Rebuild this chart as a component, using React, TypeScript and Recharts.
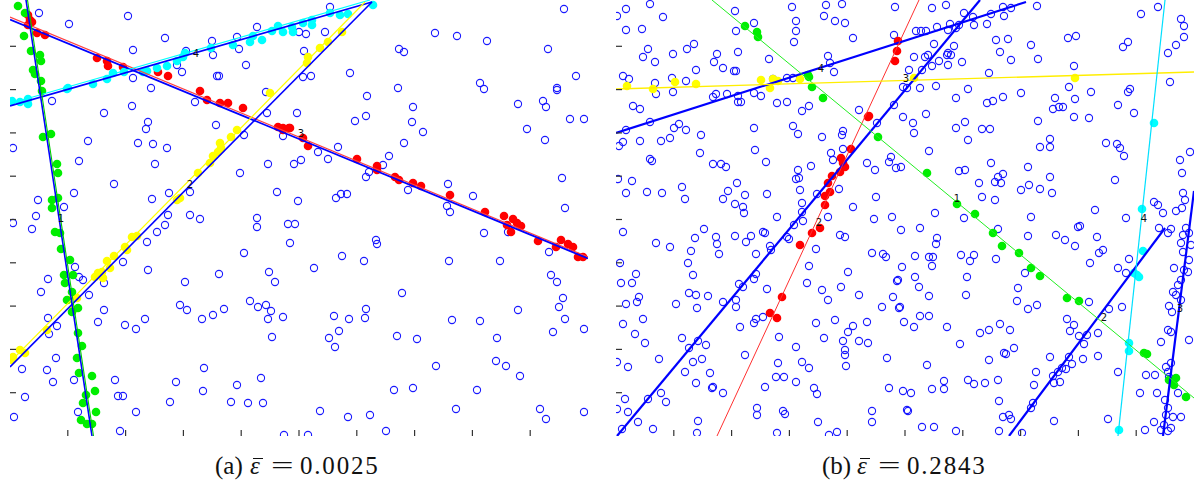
import React from 'react';
import { ScatterChart, Scatter, XAxis, YAxis } from 'recharts';

type P = [number, number];

// ---------- Panel (a) ----------
const aCircles: P[] = [
  [29,423],[118,420],[59,412],[155,398],[123,386],[176,385],[202,395],[227,399],[247,409],[229,387],[203,381],[236,371],[167,371],[172,364],[207,360],[209,360],[123,358],[141,348],[42,335],[122,330],[185,334],[94,323],[256,344],[257,323],[287,323],[138,314],[136,307],[206,311],[234,301],[273,300],[3,288],[78,295],[128,293],[143,292],[157,288],[69,275],[145,272],[258,272],[284,272],[230,263],[104,252],[180,244],[159,243],[267,244],[64,243],[28,236],[142,237],[288,235],[54,229],[26,220],[180,221],[158,221],[247,218],[190,217],
  [3,213],[22,207],[137,194],[147,204],[155,211],[247,209],[278,212],[285,212],[280,193],[234,183],[113,174],[138,166],[65,169],[38,157],[69,159],[73,156],[31,144],[94,153],[175,154],[209,162],[259,164],[265,154],[79,141],[170,131],[177,126],[94,126],[240,135],[248,129],[256,131],[261,125],[214,127],[203,121],[192,117],[258,117],[273,119],[38,118],[47,110],[39,102],[88,114],[115,111],[126,107],[135,117],[262,99],[46,78],[12,67],[37,66],[43,54],[64,56],[105,56],[166,54],[194,68],[193,45],[227,51],[251,58],[108,40],[113,40],[15,39],[160,34],[221,34],[238,33],[253,33],[68,24],[126,24],[4,19],[110,5],[274,1],
  [320,429],[554,427],[289,404],[296,402],[315,404],[425,403],[447,400],[477,395],[538,387],[294,385],[389,387],[394,384],[566,360],[340,363],[293,359],[301,360],[388,348],[470,353],[474,347],[547,348],[547,346],[357,340],[533,335],[536,329],[508,332],[403,329],[345,315],[356,320],[402,314],[560,317],[574,317],[413,304],[517,307],[394,293],[535,296],[328,289],[308,284],[318,277],[379,280],[291,276],[373,271],[359,264],[356,259],[438,252],[398,246],[463,240],[552,258],[326,238],[331,242],[337,242],[437,230],[440,224],[555,228],
  [366,196],[367,192],[474,203],[498,204],[332,180],[354,175],[439,175],[490,175],[539,184],[304,168],[541,161],[547,154],[392,143],[553,138],[549,129],[508,126],[356,127],[324,120],[339,117],[355,118],[442,116],[470,115],[555,117],[574,107],[543,104],[329,105],[319,98],[325,89],[387,100],[407,97],[487,98],[426,70],[486,75],[496,70],[510,60],[384,46],[403,48],[467,46],[310,25],[338,19],[360,21],[446,27],[530,27],[536,17],[574,24],[376,5],[298,1],
];
const aRed: P[] = [
  [18,421],[20,416],[18,411],[22,414],[27,403],[35,401],[87,378],[97,375],[98,370],[113,369],[148,364],[158,360],[190,345],[197,336],[210,333],[218,333],[233,328],[268,309],[273,308],[279,308],[273,306],[280,308],[293,298],[298,290],[347,277],[367,270],[367,266],[385,259],[389,256],[403,253],[411,250],[440,241],[475,224],[494,220],[503,217],[497,211],[501,204],[507,213],[511,210],[528,195],[546,189],[551,196],[558,192],[563,189],[568,179],[573,179],
];
const aCyan: P[] = [
  [2,335],[10,334],[18,337],[18,332],[57,347],[58,348],[83,352],[97,357],[103,363],[114,364],[133,364],[137,365],[147,368],[157,370],[167,375],[173,379],[175,383],[201,388],[223,391],[240,394],[243,400],[252,396],[262,405],[268,410],[273,404],[282,409],[283,404],[293,413],[302,416],[302,411],[320,423],[330,421],[338,422],[363,431],
];
const aYellow: P[] = [
  [260,343],[227,306],[221,299],[210,293],[211,288],[208,284],[203,280],[200,273],[188,263],[167,236],[170,238],[122,199],[127,200],[115,189],[117,186],[104,180],[97,175],[100,168],[88,163],[92,164],[85,159],[93,158],[67,138],[58,136],[63,126],[37,106],[10,86],[15,83],[3,79],[2,76],[332,404],[318,394],[310,388],[298,379],[297,373],
];
const aGreen: P[] = [
  [8,430],[15,423],[14,400],[21,385],[30,381],[31,375],[23,366],[25,362],[31,355],[32,345],[33,299],[41,302],[47,272],[48,263],[48,238],[42,236],[42,228],[45,204],[50,203],[51,187],[60,176],[54,161],[63,161],[55,153],[62,144],[57,136],[62,124],[68,128],[68,103],[72,90],[67,78],[69,63],[82,60],[85,45],[76,41],[73,33],[86,24],[71,16],[77,12],[82,12],
];
const aLineBlueRed: P[] = [[0,416.5],[578,177.5]];
const aLineRed: P[] = [[0,419],[578,179]];
const aLineBlueCyan: P[] = [[0,330],[362,434]];
const aLineCyan: P[] = [[0,332.5],[360,436]];
const aLineBlueYellow: P[] = [[0,69],[362,434]];
const aLineYellow: P[] = [[0,74],[355,434]];
const aLineBlueGreen: P[] = [[16,436],[82,0]];
const aLineGreen: P[] = [[17.5,436],[83.5,0]];
const aLabels: [number, number, string][] = [[186,383,'4'],[291,303,'3'],[180,252,'2'],[51,218,'1']];

// ---------- Panel (b) ----------
const bCircles: P[] = [
  [34,432],[119,425],[176,429],[210,431],[226,432],[279,429],[10,427],[1,420],[47,419],[138,413],[208,420],[180,415],[219,415],[229,413],[10,406],[26,407],[120,405],[180,405],[178,394],[237,398],[278,401],[32,387],[71,387],[78,392],[57,382],[27,379],[101,382],[122,384],[153,377],[212,380],[214,373],[39,374],[98,374],[107,368],[80,366],[118,365],[120,365],[218,364],[7,360],[13,357],[56,358],[70,355],[40,342],[57,344],[39,353],[157,357],[171,358],[177,358],[97,339],[100,342],[111,342],[122,340],[122,334],[125,334],[138,343],[145,340],[161,333],[171,334],[193,330],[186,325],[17,330],[24,327],[34,314],[10,306],[58,308],[63,312],[70,306],[85,301],[54,298],[45,295],[24,295],[7,294],[3,290],[138,308],[177,310],[182,302],[206,299],[227,305],[226,301],[243,326],[261,313],[278,331],[287,319],[139,286],[150,274],[84,283],[34,277],[36,275],[97,272],[105,272],[110,269],[215,283],[217,276],[227,287],[251,273],[259,266],[275,279],[273,274],[280,268],[182,266],[183,258],[195,270],[180,257],[2,257],[16,255],[121,253],[66,249],[10,243],[31,244],[46,243],[112,245],[129,241],[151,242],[184,246],[201,242],[223,247],[69,237],[107,237],[119,232],[127,229],[128,223],[161,219],[186,233],[186,224],[237,229],[260,239],[212,219],[258,217],[276,219],
  [7,204],[40,193],[54,189],[79,198],[88,207],[100,199],[101,192],[103,182],[119,200],[130,194],[135,200],[147,204],[149,203],[140,182],[154,190],[155,186],[171,199],[173,197],[178,211],[187,215],[200,187],[224,201],[229,199],[256,183],[267,182],[270,179],[285,206],[286,169],[281,155],[232,164],[193,170],[191,153],[206,146],[225,149],[212,136],[243,141],[277,139],[266,129],[284,129],[288,114],[251,114],[237,110],[232,104],[227,95],[243,95],[252,93],[208,98],[200,113],[219,116],[180,89],[163,99],[140,117],[138,113],[147,119],[124,109],[151,147],[123,152],[127,149],[138,157],[140,162],[120,136],[120,129],[107,134],[92,140],[80,141],[73,143],[77,161],[72,173],[75,185],[60,132],[81,128],[90,91],[82,95],[73,88],[66,98],[86,77],[77,74],[94,63],[80,53],[69,64],[96,48],[97,49],[107,43],[129,81],[162,73],[160,59],[168,59],[180,54],[186,74],[193,68],[198,48],[201,42],[230,70],[229,86],[229,81],[271,78],[273,48],[287,45],[292,25],[256,25],[256,14],[202,14],[167,25],[169,22],[141,28],[141,21],[149,49],[161,3],[213,1],[221,4],[82,15],[81,3],[37,7],[22,14],[12,24],[1,27],[9,37],[50,34],[45,43],[32,37],[43,77],[12,69],[1,74],[29,93],[19,102],[7,112],[27,117],[10,132],[21,134],[23,139],[16,153],[20,162],[5,153],[4,173],[6,7],
  [330,431],[316,428],[348,423],[357,419],[375,422],[387,429],[395,428],[388,420],[421,430],[542,429],[525,422],[565,417],[568,410],[334,412],[343,411],[358,411],[371,412],[300,405],[305,405],[310,405],[321,409],[332,406],[340,408],[380,396],[392,397],[452,398],[460,400],[507,389],[512,394],[560,391],[568,399],[552,383],[415,391],[384,384],[395,376],[422,377],[458,370],[373,363],[318,392],[338,390],[332,383],[331,381],[335,381],[298,379],[309,379],[312,381],[323,375],[346,374],[316,370],[332,371],[293,366],[306,366],[554,354],[287,349],[291,348],[304,348],[320,350],[352,347],[453,349],[475,344],[512,344],[514,347],[405,343],[387,339],[377,335],[371,333],[340,338],[439,338],[459,337],[502,331],[437,327],[443,329],[447,329],[518,323],[473,318],[458,319],[422,315],[297,313],[298,303],[310,322],[340,308],[349,314],[366,307],[374,307],[352,296],[434,297],[424,289],[434,289],[490,293],[501,292],[504,288],[508,280],[313,285],[574,284],[564,276],[566,263],[375,273],[412,269],[343,265],[349,266],[434,259],[499,256],[363,253],[379,254],[382,259],[387,262],[385,253],[413,251],[405,246],[424,247],[436,243],[366,239],[379,236],[479,226],[538,234],[542,231],[547,223],[560,225],[567,243],[569,236],[566,228],[285,269],[319,223],[348,218],[415,219],[510,218],
  [304,208],[321,198],[320,192],[382,207],[412,200],[440,201],[449,196],[459,190],[462,209],[464,210],[481,199],[483,183],[487,186],[299,180],[313,179],[317,179],[316,170],[354,175],[358,181],[345,181],[380,177],[409,163],[474,173],[502,168],[510,163],[513,177],[282,156],[299,159],[351,159],[303,149],[313,140],[350,141],[402,148],[401,135],[412,127],[421,131],[473,134],[493,127],[506,129],[283,128],[298,109],[304,120],[313,120],[331,109],[364,103],[373,106],[384,112],[394,106],[451,117],[454,105],[458,111],[463,100],[471,101],[482,103],[468,92],[344,92],[398,88],[388,83],[390,82],[434,79],[453,79],[450,67],[467,77],[482,80],[456,72],[446,68],[442,64],[437,60],[373,76],[311,71],[420,64],[444,54],[438,53],[502,64],[530,61],[539,61],[352,56],[358,52],[369,53],[382,56],[328,55],[328,47],[316,47],[295,43],[418,51],[383,35],[291,26],[387,19],[393,21],[395,17],[417,33],[415,28],[438,15],[492,17],[524,43],[541,43],[562,43],[565,19],[538,14],[529,6],[552,5],[406,3],[383,5],[340,5],[318,9],[306,9],
  [543,208],[552,203],[555,207],[567,201],[570,208],[573,203],[565,193],[575,191],[567,184],[573,176],[558,168],[568,166],[572,164],[565,156],[562,151],[557,144],[560,141],[565,136],[553,130],[556,124],[552,106],[555,104],[545,94],[573,96],[550,69],[555,73],[552,64],[553,59],[549,36],[552,28],[548,11],[545,6],[555,8],[557,19],[550,21],
];
const bRed: P[] = [
  [282,395],[281,385],[279,375],[253,320],[252,319],[235,287],[225,278],[227,273],[229,269],[224,264],[216,260],[212,253],[214,244],[209,240],[209,231],[204,208],[196,203],[184,191],[166,139],[154,123],[161,118],
];
const bGreen: P[] = [
  [129,410],[141,404],[142,399],[192,361],[193,359],[196,349],[207,338],[262,299],[311,263],[341,232],[359,222],[377,203],[386,190],[403,183],[415,168],[424,160],[451,138],[463,135],[528,83],[531,82],[553,56],[560,58],[558,51],[570,39],
];
const bYellow: P[] = [[11,350],[37,347],[59,354],[80,352],[145,356],[154,348],[157,357],[162,355],[184,357],[298,358],[459,358]];
const bCyan: P[] = [[538,313],[526,227],[527,185],[518,163],[523,159],[521,161],[513,93],[513,85],[503,6]];
const bLineRed: P[] = [[101,0],[303,436]];
const bLineGreen: P[] = [[96,436],[578,38]];
const bLineYellow: P[] = [[0,347],[578,364]];
const bLineCyan: P[] = [[549,436],[502,0]];
const bLineBlue1: P[] = [[0,303],[410,434]];
const bLineBlue2: P[] = [[1,0],[364,436]];
const bLineBlue3: P[] = [[393,0],[549,208]];
const bLineBlue4: P[] = [[547,0],[578,245]];
const bLabels: [number, number, string][] = [[205,368,'4'],[290,358,'3'],[203,214,'2'],[341,238,'1'],[528,218,'4'],[488,119,'2'],[564,128,'3']];

const xTicks = [57.8, 115.6, 173.4, 231.2, 289, 346.8, 404.6, 462.4, 520.2];
const yTicks = [43.3, 86.6, 129.9, 173.2, 216.5, 259.8, 303.1, 346.4, 389.7];

const toObj = (arr: P[]) => arr.map(([x, y]) => ({ x, y }));

const hollow = (props: any) => (
  <circle cx={props.cx} cy={props.cy} r={3.6} fill="none" stroke="#1a1aff" strokeWidth={1.1} />
);
const filled = (color: string) => (props: any) => (
  <circle cx={props.cx} cy={props.cy} r={4.3} fill={color} stroke="none" />
);
const noDot = () => <g />;
const labelShape = (props: any) => (
  <text x={props.cx} y={props.cy} fontSize={10} fontFamily="DejaVu Sans" textAnchor="middle" dominantBaseline="central" fill="#111">
    {props.payload.t}
  </text>
);

const xTickMark = (props: any) => (
  <line x1={props.x} x2={props.x} y1={props.y} y2={props.y - 6} stroke="#333" strokeWidth={1.2} />
);
const yTickMark = (props: any) => (
  <line x1={props.x} x2={props.x + 6} y1={props.y} y2={props.y} stroke="#333" strokeWidth={1.2} />
);

const W = 578;
const H = 436;

function lineSeries(data: P[], color: string, width: number, key: string) {
  return (
    <Scatter
      key={key}
      data={toObj(data)}
      line={{ stroke: color, strokeWidth: width }}
      shape={noDot}
      isAnimationActive={false}
      legendType="none"
    />
  );
}

function Panel(props: {
  circles: P[];
  dots: [P[], string][];
  lines: [P[], string, number][];
  labels: [number, number, string][];
}) {
  return (
    <ScatterChart width={W} height={H} margin={{ top: 0, right: 0, bottom: 0, left: 0 }}>
      <XAxis type="number" dataKey="x" domain={[0, 578]} ticks={xTicks} tick={xTickMark} axisLine={false}
        tickLine={false} tickSize={0} tickMargin={0} mirror allowDataOverflow interval={0} />
      <YAxis type="number" dataKey="y" domain={[0, 436]} ticks={yTicks} tick={yTickMark} axisLine={false}
        tickLine={false} tickSize={0} tickMargin={0} mirror allowDataOverflow interval={0} />
      <Scatter data={toObj(props.circles)} shape={hollow} isAnimationActive={false} />
      {props.dots.map(([d, c], i) => (
        <Scatter key={'d' + i} data={toObj(d)} shape={filled(c)} isAnimationActive={false} />
      ))}
      {props.lines.map(([d, c, w], i) => lineSeries(d, c, w, 'l' + i))}
      <Scatter data={props.labels.map(([x, y, t]) => ({ x, y, t }))} shape={labelShape} isAnimationActive={false} />
    </ScatterChart>
  );
}

const capFont = '"Liberation Serif", "DejaVu Serif", serif';

function Caption({ left, tag, value }: { left: number; tag: string; value: string }) {
  const base: React.CSSProperties = {
    position: 'absolute',
    top: 0,
    fontFamily: capFont,
    fontSize: 25,
    lineHeight: '29px',
    color: '#111',
    whiteSpace: 'nowrap',
  };
  return (
    <div style={{ position: 'absolute', left, top: 451, width: 180, height: 32 }}>
      <span style={{ ...base, left: 0 }}>({tag})</span>
      <span style={{ ...base, left: 35, fontStyle: 'italic' }}>ε</span>
      <div style={{ position: 'absolute', left: 38, top: 7, width: 10, height: 1.4, background: '#111' }} />
      <span style={{ ...base, left: 56, display: 'inline-block', transform: 'scaleX(1.6)', transformOrigin: 'left center' }}>=</span>
      <span style={{ ...base, left: 85, letterSpacing: 1.8 }}>{value}</span>
    </div>
  );
}

export default function App() {
  return (
    <div style={{ position: 'absolute', left: 0, top: 0, width: 1196, height: 486, background: '#fff', overflow: 'hidden' }}>
      <div style={{ position: 'absolute', left: 10, top: 0 }}>
        <Panel
          circles={aCircles}
          dots={[[aRed, '#ff0000'], [aCyan, '#00ffff'], [aYellow, '#ffff00'], [aGreen, '#00ee00']]}
          lines={[
            [aLineRed, '#ff4040', 1.2], [aLineBlueRed, '#0000ff', 1.8],
            [aLineCyan, '#00ffff', 1.2], [aLineBlueCyan, '#0000ff', 1.8],
            [aLineYellow, '#ffff00', 1.2], [aLineBlueYellow, '#0000ff', 1.6],
            [aLineBlueGreen, '#0000ff', 1.6], [aLineGreen, '#00cc00', 1.1],
          ]}
          labels={aLabels}
        />
      </div>
      <div style={{ position: 'absolute', left: 616, top: 0 }}>
        <Panel
          circles={bCircles}
          dots={[[bRed, '#ff0000'], [bGreen, '#00ee00'], [bYellow, '#ffff00'], [bCyan, '#00ffff']]}
          lines={[
            [bLineBlue1, '#0000ff', 2.2], [bLineBlue2, '#0000ff', 2.2], [bLineBlue3, '#0000ff', 2.2], [bLineBlue4, '#0000ff', 2.2],
            [bLineRed, '#ff3030', 1], [bLineGreen, '#22ee22', 1], [bLineYellow, '#ffee00', 1.3], [bLineCyan, '#00e0ff', 1.2],
          ]}
          labels={bLabels}
        />
      </div>
      <Caption left={215} tag="a" value="0.0025" />
      <Caption left={822} tag="b" value="0.2843" />
    </div>
  );
}
